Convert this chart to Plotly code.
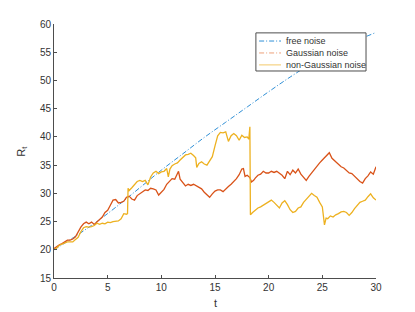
import plotly.graph_objects as go

# ---- data ----
t_free = [0, 2, 4, 6, 8, 10, 12, 14, 16, 18, 20, 22, 24, 26, 28, 30]
r_free = [20.0, 22.4, 25.0, 27.9, 31.0, 34.1, 37.0, 39.9, 42.6, 45.3, 48.0, 50.6, 53.0, 55.0, 56.9, 58.5]

t_gauss = [0, 0.25, 0.5, 0.75, 1.0, 1.25, 1.5, 1.75, 2.0, 2.25, 2.5, 2.75, 3.0, 3.25, 3.5, 3.75,
           4.0, 4.25, 4.5, 4.75, 5.0, 5.25, 5.5, 5.75, 6.0, 6.25, 6.5, 6.75, 7.0, 7.25, 7.5, 7.75,
           8.0, 8.25, 8.5, 8.75, 9.0, 9.25, 9.5, 9.75, 10.0, 10.25, 10.5, 10.75, 11.0, 11.25, 11.5,
           11.6, 11.75, 12.0, 12.25, 12.5, 12.75, 13.0, 13.25, 13.5, 13.75, 14.0, 14.25, 14.5, 14.75,
           15.0, 15.25, 15.5, 15.75, 16.0, 16.25, 16.5, 16.75, 17.0, 17.25, 17.5, 17.65, 17.8, 18.0,
           18.25, 18.4, 18.6, 18.75, 19.0, 19.25, 19.5, 19.75, 20.0, 20.25, 20.5, 20.75, 21.0, 21.25,
           21.5, 21.75, 22.0, 22.25, 22.5, 22.75, 23.0, 23.25, 23.5, 23.75, 24.0, 24.25, 24.5, 24.75,
           25.0, 25.25, 25.5, 25.65, 25.9, 26.25, 26.5, 26.75, 27.0, 27.25, 27.5, 27.75, 28.0, 28.25,
           28.5, 28.75, 29.0, 29.25, 29.5, 29.75, 30.0]
r_gauss = [20.2, 20.6, 20.9, 21.1, 21.4, 21.7, 21.7, 21.9, 22.3, 23.2, 24.0, 24.6, 24.9, 24.6, 24.9, 24.5,
           24.9, 25.4, 25.8, 26.6, 27.0, 27.9, 28.8, 28.9, 28.3, 28.4, 28.6, 29.3, 29.5, 29.0, 28.8, 29.6,
           29.9, 30.2, 30.6, 30.5, 30.9, 30.8, 30.6, 29.7, 30.3, 30.7, 31.6, 32.1, 32.6, 32.5, 33.4,
           33.9, 32.5, 31.8, 31.3, 31.6, 31.4, 31.6, 31.3, 31.0, 30.8, 30.2, 29.8, 29.3, 29.9,
           30.4, 30.6, 30.6, 30.3, 30.8, 31.2, 31.6, 32.1, 32.6, 33.3, 34.3, 34.4, 33.0, 33.2,
           32.8, 32.0, 32.3, 32.7, 33.2, 33.4, 33.9, 33.6, 33.6, 33.9, 33.7, 33.9, 33.6, 33.2,
           32.6, 33.9, 33.3, 34.1, 33.6, 34.3, 33.4, 32.9, 32.3, 33.0, 33.6, 34.4, 35.0, 35.4,
           35.9, 36.4, 37.0, 37.2, 36.2, 35.6, 35.0, 34.7, 34.5, 34.1, 33.6, 33.5, 33.0, 32.6,
           32.1, 31.8, 32.6, 33.1, 33.8, 33.4, 34.7]

t_nong = [0, 0.25, 0.5, 0.75, 1.0, 1.25, 1.5, 1.75, 2.0, 2.25, 2.5, 2.75, 3.0, 3.25, 3.5, 3.75,
          4.0, 4.25, 4.5, 4.75, 5.0, 5.25, 5.5, 5.75, 6.0, 6.25, 6.5, 6.75, 6.85, 6.9, 7.0, 7.25,
          7.5, 7.75, 8.0, 8.25, 8.5, 8.75, 9.0, 9.25, 9.5, 9.75, 10.0, 10.25, 10.5, 10.65, 10.8,
          11.0, 11.25, 11.5, 11.75, 12.0, 12.25, 12.5, 12.75, 13.0, 13.2, 13.3, 13.5, 13.75, 14.0,
          14.25, 14.5, 14.75, 15.0, 15.25, 15.5, 15.75, 16.0, 16.25, 16.5, 16.75, 17.0, 17.25, 17.5,
          17.75, 18.0, 18.15, 18.25, 18.3, 18.5, 18.75, 19.0, 19.25, 19.5, 19.75, 20.0, 20.25, 20.5,
          20.75, 21.0, 21.25, 21.5, 21.75, 22.0, 22.25, 22.5, 22.75, 23.0, 23.25, 23.5, 23.75, 24.0,
          24.25, 24.5, 24.75, 25.0, 25.2, 25.35, 25.5, 25.75, 26.0, 26.25, 26.5, 26.75, 27.0, 27.25,
          27.5, 27.75, 28.0, 28.25, 28.5, 28.75, 29.0, 29.25, 29.5, 29.75, 30.0]
r_nong = [20.0, 20.3, 20.8, 21.0, 21.3, 21.4, 21.4, 21.4, 21.8, 22.2, 23.2, 23.9, 24.1, 24.0, 24.1, 24.3,
          24.7, 24.5, 24.7, 24.6, 24.9, 24.8, 25.0, 25.0, 25.1, 25.5, 26.4, 26.3, 26.4, 30.9, 30.5, 31.0,
          31.5, 32.1, 32.3, 32.1, 32.3, 31.5, 32.9, 33.6, 33.9, 33.5, 33.8, 33.9, 34.4, 32.9, 34.3,
          34.9, 35.2, 35.4, 35.9, 36.3, 36.8, 36.9, 37.1, 36.7, 36.3, 34.6, 35.3, 35.6, 35.2,
          35.0, 35.8, 36.5, 38.4, 40.2, 40.8, 40.7, 40.9, 39.2, 40.2, 40.6, 40.2, 39.4, 40.3,
          39.9, 40.0, 39.6, 41.8, 26.2, 26.6, 27.0, 27.4, 27.6, 27.9, 28.1, 28.4, 28.8, 28.4,
          27.9, 27.4, 28.3, 28.7, 28.0, 27.1, 26.6, 26.8, 27.4, 27.6, 28.4, 29.0, 29.6, 30.0,
          29.6, 29.3, 28.4, 27.6, 24.4, 25.6, 25.5, 26.0, 25.8, 26.2, 26.4, 26.7, 26.8, 26.6,
          26.1, 26.6, 27.3, 27.9, 28.4, 28.6, 28.8, 29.4, 29.9, 29.2, 28.8]

x_ticks = [0, 5, 10, 15, 20, 25, 30]
y_ticks = [15, 20, 25, 30, 35, 40, 45, 50, 55, 60]
legend_names = ["free noise", "Gaussian noise", "non-Gaussian noise"]

C_BLUE = "#2f8fd6"
C_RED = "#D95319"
C_YEL = "#EDB120"
AX = "#4d4d4d"
TXT = "#333333"
FONT = "Liberation Sans, Arial, Helvetica, sans-serif"
DASHDOT = "5px,2px,1px,2px"

fig = go.Figure()
fig.add_trace(go.Scatter(x=t_free, y=r_free, mode="lines", name=legend_names[0],
                         line=dict(color=C_BLUE, width=1, dash=DASHDOT, shape="spline")))
fig.add_trace(go.Scatter(x=t_gauss, y=r_gauss, mode="lines", name=legend_names[1],
                         line=dict(color=C_RED, width=1.3)))
fig.add_trace(go.Scatter(x=t_nong, y=r_nong, mode="lines", name=legend_names[2],
                         line=dict(color=C_YEL, width=1.3)))

axis_common = dict(showline=True, linecolor=AX, linewidth=1, ticks="inside", ticklen=3,
                   tickcolor=AX, tickwidth=1, showgrid=False, zeroline=False,
                   tickfont=dict(family=FONT, size=10, color=TXT), mirror=False)
fig.update_xaxes(range=[0, 30], tickvals=x_ticks, **axis_common)
fig.update_yaxes(range=[15, 60], tickvals=y_ticks, **axis_common)

# ---- legend box drawn in paper coordinates (MATLAB-like compact legend) ----
leg_x0, leg_x1, leg_y0, leg_y1 = 0.627, 0.969, 0.815, 0.965
row_y = [0.933, 0.886, 0.839]
sample_x0, sample_x1, text_x = 0.637, 0.705, 0.714
sample_styles = [dict(color=C_BLUE, width=1, dash=DASHDOT),
                 dict(color="#eda07a", width=1, dash=DASHDOT),
                 dict(color="#f3c96a", width=1)]
shapes = [dict(type="rect", xref="paper", yref="paper", x0=leg_x0, x1=leg_x1, y0=leg_y0, y1=leg_y1,
               line=dict(color=AX, width=1), fillcolor="white", layer="above")]
annotations = []
for name, yy, st in zip(legend_names, row_y, sample_styles):
    shapes.append(dict(type="line", xref="paper", yref="paper", x0=sample_x0, x1=sample_x1,
                       y0=yy, y1=yy, line=st, layer="above"))
    annotations.append(dict(text=name, xref="paper", yref="paper", x=text_x, y=yy,
                            xanchor="left", yanchor="middle", showarrow=False,
                            font=dict(family=FONT, size=9, color=TXT)))

annotations += [
    dict(text="t", xref="paper", yref="paper", x=0.5, y=-0.1, yanchor="middle",
         showarrow=False, font=dict(family=FONT, size=11, color=TXT)),
    dict(text="R<sub>t</sub>", xref="paper", yref="paper", x=-0.1, y=0.5, textangle=-90,
         xanchor="center", yanchor="middle",
         showarrow=False, font=dict(family=FONT, size=11, color=TXT)),
]

# page body has an 8px margin; compensate so the plot area lands at x 54-376, y 24-278
fig.update_layout(
    width=407, height=304,
    margin=dict(l=46, r=39, t=16, b=34, autoexpand=False),
    plot_bgcolor="white", paper_bgcolor="white",
    showlegend=False,
    shapes=shapes,
    annotations=annotations,
)

fig.write_html("out.html")
